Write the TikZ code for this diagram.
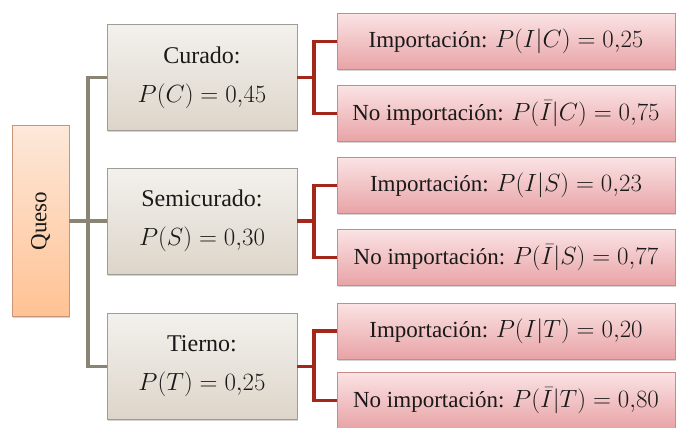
\documentclass[tikz,border=0pt]{standalone}
\usepackage{fontspec}
\setmainfont{Liberation Serif}
\usetikzlibrary{shadows}
\definecolor{gline}{HTML}{8A8474}
\definecolor{rline}{HTML}{A3271B}
\definecolor{qtop}{HTML}{FDE8DA}
\definecolor{qbot}{HTML}{FFC293}
\definecolor{qdraw}{HTML}{C8957A}
\definecolor{mtop}{HTML}{F3F1ED}
\definecolor{mbot}{HTML}{DDD5C9}
\definecolor{mdraw}{HTML}{A09C94}
\definecolor{ptop}{HTML}{FBE3E4}
\definecolor{pbot}{HTML}{E8A3A6}
\definecolor{pdraw}{HTML}{C98A8C}
\tikzset{
  x=1pt, y=-1pt,
  base/.style={outer sep=0pt, inner sep=0pt, line width=0.8pt,
    drop shadow={opacity=0.35, shadow xshift=1.2pt, shadow yshift=-1.5pt},
    font=\fontsize{23}{28}\selectfont, text=black!90},
  quesobox/.style={base, draw=qdraw, top color=qtop, bottom color=qbot,
    minimum width=57pt, minimum height=191pt},
  midbox/.style={base, draw=mdraw, top color=mtop, bottom color=mbot,
    minimum width=190pt, minimum height=106pt, align=center,
    font=\fontsize{24}{39}\selectfont},
  probbox/.style={base, draw=pdraw, top color=ptop, bottom color=pbot,
    minimum width=338pt, minimum height=56pt},
  gconn/.style={draw=gline, line width=3.5pt},
  rconn/.style={draw=rline, line width=3.5pt},
}
\begin{document}
\begin{tikzpicture}
\useasboundingbox (0,0) rectangle (678,428);
\node[quesobox] (q) at (40.5,221) {\rotatebox{90}{Queso}};
\node[midbox] (c) at (202,77.5) {Curado:\\$P(C)=0{,}45$};
\node[midbox] (s) at (202,221) {Semicurado:\\$P(S)=0{,}30$};
\node[midbox] (t) at (202,366.5) {Tierno:\\$P(T)=0{,}25$};
\node[probbox] (ic) at (506,41.5) {Importación: $P(I|C)=0{,}25$};
\node[probbox] (nc) at (506,113.5) {No importación: $P(\bar{I}|C)=0{,}75$};
\node[probbox] (is) at (506,185.5) {Importación: $P(I|S)=0{,}23$};
\node[probbox] (ns) at (506,257.5) {No importación: $P(\bar{I}|S)=0{,}77$};
\node[probbox] (it) at (506,331) {Importación: $P(I|T)=0{,}20$};
\node[probbox] (nt) at (506,400.5) {No importación: $P(\bar{I}|T)=0{,}80$};
% grey tree
\draw[gconn] (q.east) -- (s.west);
\draw[gconn] (c.west) -- ++(-19,0) coordinate (gk) |- (t.west);
% red trees
\draw[rconn] (c.east) -- ++(17,0) coordinate (rc) |- (ic.west);
\draw[rconn] (rc) |- (nc.west);
\draw[rconn] (s.east) -- ++(17,0) coordinate (rs) |- (is.west);
\draw[rconn] (rs) |- (ns.west);
\draw[rconn] (t.east) -- ++(17,0) coordinate (rt) |- (it.west);
\draw[rconn] (rt) |- (nt.west);
\end{tikzpicture}
\end{document}
